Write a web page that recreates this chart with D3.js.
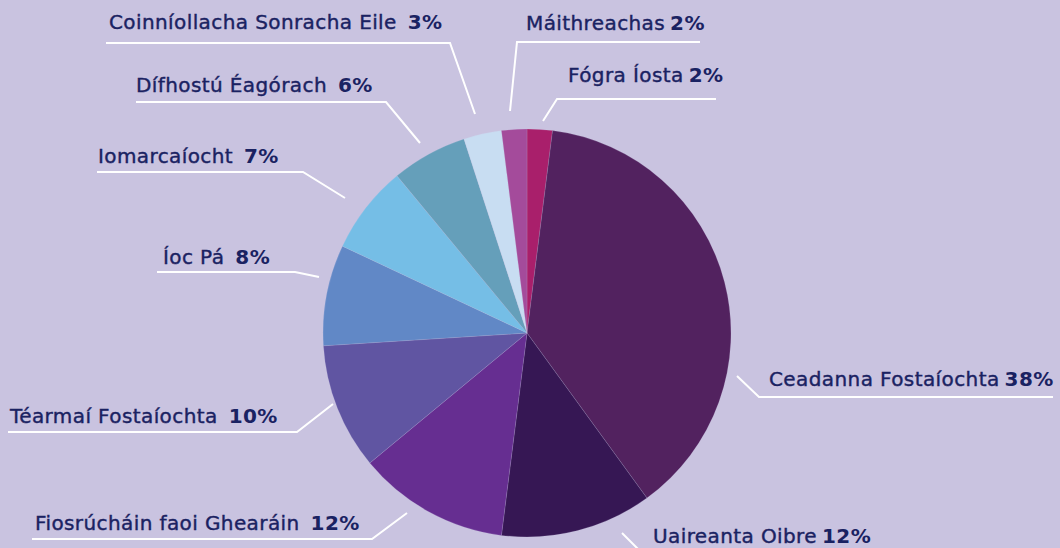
<!DOCTYPE html>
<html>
<head>
<meta charset="utf-8">
<script src="https://cdn.jsdelivr.net/npm/d3@7"></script>
<style>
  html, body { margin: 0; padding: 0; background: #C9C3E0; }
  svg { display: block; }
</style>
</head>
<body>
<svg id="chart" width="1060" height="548"></svg>
<script>
// ---- data ----
const categories = ["Fógra Íosta", "Ceadanna Fostaíochta", "Uaireanta Oibre", "Fiosrúcháin faoi Ghearáin",
  "Téarmaí Fostaíochta", "Íoc Pá", "Iomarcaíocht", "Dífhostú Éagórach", "Coinníollacha Sonracha Eile", "Máithreachas"];
const values = [2, 38, 12, 12, 10, 8, 7, 6, 3, 2];
const percentLabels = ["2%", "38%", "12%", "12%", "10%", "8%", "7%", "6%", "3%", "2%"];

// ---- styles / layout (annotation placement) ----
const colors = ["#A91F6B", "#52225F", "#361754", "#662E91", "#6055A2", "#6188C6", "#75BEE6", "#659FBA", "#C8DDF2", "#A44B9B"];
const labelGap = [5, 5, 5, 11, 11, 11, 11, 11, 11, 5];
const labelPos = [[568, 82], [769, 386], [653, 543], [35, 530], [10, 423], [163, 264], [98, 163], [136, 92], [109, 29], [526, 30]];
const leaderLines = [
  [[716, 99], [557, 99], [543, 121]],
  [[1053, 397], [759, 397], [737, 376]],
  [[622, 533], [645, 556]],
  [[32, 539], [372, 539], [407, 513]],
  [[8, 432], [297, 432], [333, 404]],
  [[157, 272], [295, 272], [319, 277]],
  [[97, 172], [303, 172], [345, 198]],
  [[136, 102], [386, 102], [420, 143]],
  [[106, 43], [450, 43], [475, 114]],
  [[700, 42], [517, 42], [510, 111]]
];

const svg = d3.select("#chart");
const cx = 527, cy = 333, radius = 204;

const data = categories.map((c, i) => ({ name: c, value: values[i], pct: percentLabels[i], color: colors[i], i }));

const pie = d3.pie().value(d => d.value).sort(null);
const arc = d3.arc().innerRadius(0).outerRadius(radius);

const g = svg.append("g").attr("transform", `translate(${cx},${cy})`);
g.selectAll("path")
  .data(pie(data))
  .join("path")
  .attr("d", arc)
  .attr("fill", d => d.data.color)
  .attr("stroke", "rgba(201,195,224,0.35)")
  .attr("stroke-width", 0.5);

const line = d3.line();
svg.append("g").selectAll("path")
  .data(leaderLines)
  .join("path")
  .attr("d", d => line(d))
  .attr("fill", "none")
  .attr("stroke", "#FFFFFF")
  .attr("stroke-width", 2);

const t = svg.append("g").selectAll("text")
  .data(data)
  .join("text")
  .attr("x", d => labelPos[d.i][0])
  .attr("y", d => labelPos[d.i][1])
  .attr("font-family", "'DejaVu Sans', sans-serif")
  .attr("font-size", 20)
  .attr("letter-spacing", 0.4)
  .attr("fill", "#1A2262");
t.append("tspan").attr("font-weight", 400)
  .attr("stroke", "#1A2262").attr("stroke-width", 0.4)
  .text(d => d.name);
t.append("tspan").attr("font-weight", 700).attr("dx", d => labelGap[d.i]).text(d => d.pct);
</script>
</body>
</html>
